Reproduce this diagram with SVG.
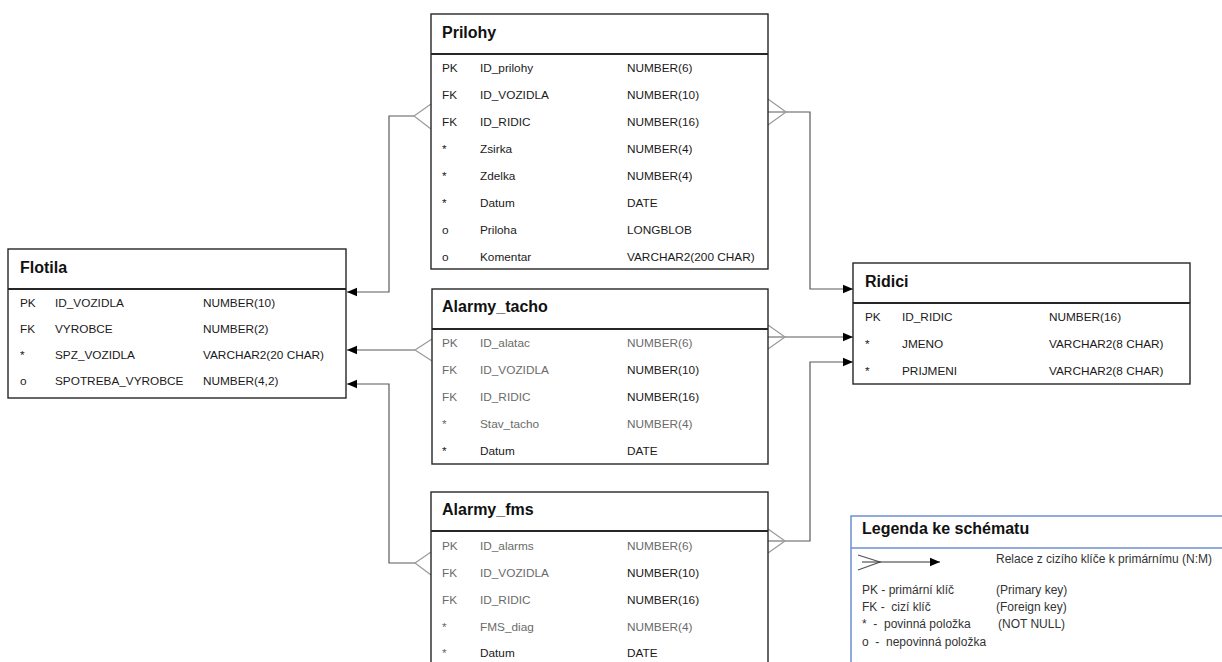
<svg xmlns="http://www.w3.org/2000/svg" width="1222" height="662" viewBox="0 0 1222 662">
  <defs>
    <style>
      .box { fill: #ffffff; stroke: #262626; stroke-width: 1.4; }
      .div { stroke: #262626; stroke-width: 2; }
      .title { font-family: "Liberation Sans", Arial, sans-serif; font-size: 16px; font-weight: bold; fill: #111111; }
      .t { font-family: "Liberation Sans", Arial, sans-serif; font-size: 11.8px; fill: #1a1a1a; }
      .g { fill: #6a6a6a; }
      .link { fill: none; stroke: #5a5a5a; stroke-width: 1.2; }
      .crow { fill: none; stroke: #9a9a9a; stroke-width: 1.2; }
      .leg { fill: #ffffff; stroke: #6f8fd0; stroke-width: 1.5; }
      .lt { font-family: "Liberation Sans", Arial, sans-serif; font-size: 12px; fill: #333333; }
    </style>
    <marker id="arrow" markerUnits="userSpaceOnUse" markerWidth="10" markerHeight="10" viewBox="0 0 10 10" refX="10" refY="5" orient="auto">
      <path d="M0,0.8 L10,5 L0,9.2 Z" fill="#000000"/>
    </marker>
  </defs>

  <rect width="1222" height="662" fill="#ffffff"/>

  <!-- relations: crow's foot at the foreign-key side, arrow at the primary key -->
  <g id="connectors">
    <path class="link" d="M414,116 H389 V292 H347" marker-end="url(#arrow)"/>
    <polyline class="crow" points="431,104 414,116 431,129"/>

    <path class="link" d="M768,112 H810 V289 H853" marker-end="url(#arrow)"/>
    <polyline class="crow" points="768,99 786,112 768,125"/>

    <path class="link" d="M415,350 H347" marker-end="url(#arrow)"/>
    <polyline class="crow" points="432,339 415,350 432,361"/>

    <path class="link" d="M768,337 H853" marker-end="url(#arrow)"/>
    <polyline class="crow" points="768,325 785,337 768,349"/>

    <path class="link" d="M415,563 H389 V384 H347" marker-end="url(#arrow)"/>
    <polyline class="crow" points="431,552 415,563 431,575"/>

    <path class="link" d="M768,541 H810 V362 H853" marker-end="url(#arrow)"/>
    <polyline class="crow" points="768,529 785,541 768,553"/>
  </g>

  <!-- Prilohy -->
  <g id="prilohy">
    <rect class="box" x="431" y="14" width="337" height="255"/>
    <line class="div" x1="431" y1="54" x2="768" y2="54"/>
    <text class="title" x="442" y="38">Prilohy</text>
    <g class="t">
      <text x="442" y="72">PK</text><text x="480" y="72">ID_prilohy</text><text x="627" y="72">NUMBER(6)</text>
      <text x="442" y="99">FK</text><text x="480" y="99">ID_VOZIDLA</text><text x="627" y="99">NUMBER(10)</text>
      <text x="442" y="126">FK</text><text x="480" y="126">ID_RIDIC</text><text x="627" y="126">NUMBER(16)</text>
      <text x="442" y="153">*</text><text x="480" y="153">Zsirka</text><text x="627" y="153">NUMBER(4)</text>
      <text x="442" y="180">*</text><text x="480" y="180">Zdelka</text><text x="627" y="180">NUMBER(4)</text>
      <text x="442" y="207">*</text><text x="480" y="207">Datum</text><text x="627" y="207">DATE</text>
      <text x="442" y="234">o</text><text x="480" y="234">Priloha</text><text x="627" y="234">LONGBLOB</text>
      <text x="442" y="261">o</text><text x="480" y="261">Komentar</text><text x="627" y="261">VARCHAR2(200 CHAR)</text>
    </g>
  </g>

  <!-- Flotila -->
  <g id="flotila">
    <rect class="box" x="8" y="249" width="338" height="149"/>
    <line class="div" x1="8" y1="289" x2="346" y2="289"/>
    <text class="title" x="20" y="273">Flotila</text>
    <g class="t">
      <text x="20" y="307">PK</text><text x="55" y="307">ID_VOZIDLA</text><text x="203" y="307">NUMBER(10)</text>
      <text x="20" y="333">FK</text><text x="55" y="333">VYROBCE</text><text x="203" y="333">NUMBER(2)</text>
      <text x="20" y="359">*</text><text x="55" y="359">SPZ_VOZIDLA</text><text x="203" y="359">VARCHAR2(20 CHAR)</text>
      <text x="20" y="385">o</text><text x="55" y="385">SPOTREBA_VYROBCE</text><text x="203" y="385">NUMBER(4,2)</text>
    </g>
  </g>

  <!-- Alarmy_tacho -->
  <g id="alarmy_tacho">
    <rect class="box" x="432" y="289" width="336" height="175"/>
    <line class="div" x1="432" y1="329" x2="768" y2="329"/>
    <text class="title" x="442" y="312">Alarmy_tacho</text>
    <g class="t">
      <text class="g" x="442" y="347">PK</text><text class="g" x="480" y="347">ID_alatac</text><text class="g" x="627" y="347">NUMBER(6)</text>
      <text class="g" x="442" y="374">FK</text><text class="g" x="480" y="374">ID_VOZIDLA</text><text x="627" y="374">NUMBER(10)</text>
      <text class="g" x="442" y="401">FK</text><text class="g" x="480" y="401">ID_RIDIC</text><text x="627" y="401">NUMBER(16)</text>
      <text class="g" x="442" y="428">*</text><text class="g" x="480" y="428">Stav_tacho</text><text class="g" x="627" y="428">NUMBER(4)</text>
      <text x="442" y="455">*</text><text x="480" y="455">Datum</text><text x="627" y="455">DATE</text>
    </g>
  </g>

  <!-- Alarmy_fms -->
  <g id="alarmy_fms">
    <rect class="box" x="431" y="492" width="337" height="190"/>
    <line class="div" x1="431" y1="531" x2="768" y2="531"/>
    <text class="title" x="442" y="515">Alarmy_fms</text>
    <g class="t">
      <text class="g" x="442" y="550">PK</text><text class="g" x="480" y="550">ID_alarms</text><text class="g" x="627" y="550">NUMBER(6)</text>
      <text class="g" x="442" y="577">FK</text><text class="g" x="480" y="577">ID_VOZIDLA</text><text x="627" y="577">NUMBER(10)</text>
      <text class="g" x="442" y="604">FK</text><text class="g" x="480" y="604">ID_RIDIC</text><text x="627" y="604">NUMBER(16)</text>
      <text class="g" x="442" y="631">*</text><text class="g" x="480" y="631">FMS_diag</text><text class="g" x="627" y="631">NUMBER(4)</text>
      <text class="g" x="442" y="657">*</text><text x="480" y="657">Datum</text><text x="627" y="657">DATE</text>
    </g>
  </g>

  <!-- Ridici -->
  <g id="ridici">
    <rect class="box" x="853" y="263" width="337" height="121"/>
    <line class="div" x1="853" y1="303" x2="1190" y2="303"/>
    <text class="title" x="865" y="287">Ridici</text>
    <g class="t">
      <text x="865" y="321">PK</text><text x="902" y="321">ID_RIDIC</text><text x="1049" y="321">NUMBER(16)</text>
      <text x="865" y="348">*</text><text x="902" y="348">JMENO</text><text x="1049" y="348">VARCHAR2(8 CHAR)</text>
      <text x="865" y="375">*</text><text x="902" y="375">PRIJMENI</text><text x="1049" y="375">VARCHAR2(8 CHAR)</text>
    </g>
  </g>

  <!-- legend -->
  <g id="legenda">
    <rect class="leg" x="851" y="516" width="390" height="170"/>
    <line class="leg" x1="851" y1="548" x2="1222" y2="548"/>
    <text class="title" x="862" y="534">Legenda ke schématu</text>
    <polyline class="crow" points="858,555 880,562 858,570" style="stroke:#555555"/>
    <path class="link" d="M862,562 H940" style="stroke:#333333" marker-end="url(#arrow)"/>
    <g class="lt">
      <text x="996" y="563">Relace z cizího klíče k primárnímu (N:M)</text>
      <text x="862" y="594">PK - primární klíč</text><text x="996" y="594">(Primary key)</text>
      <text x="862" y="611" xml:space="preserve">FK -  cizí klíč</text><text x="996" y="611">(Foreign key)</text>
      <text x="862" y="628" xml:space="preserve">*  -  povinná položka</text><text x="998" y="628">(NOT NULL)</text>
      <text x="862" y="646" xml:space="preserve">o  -  nepovinná položka</text>
    </g>
  </g>
</svg>
